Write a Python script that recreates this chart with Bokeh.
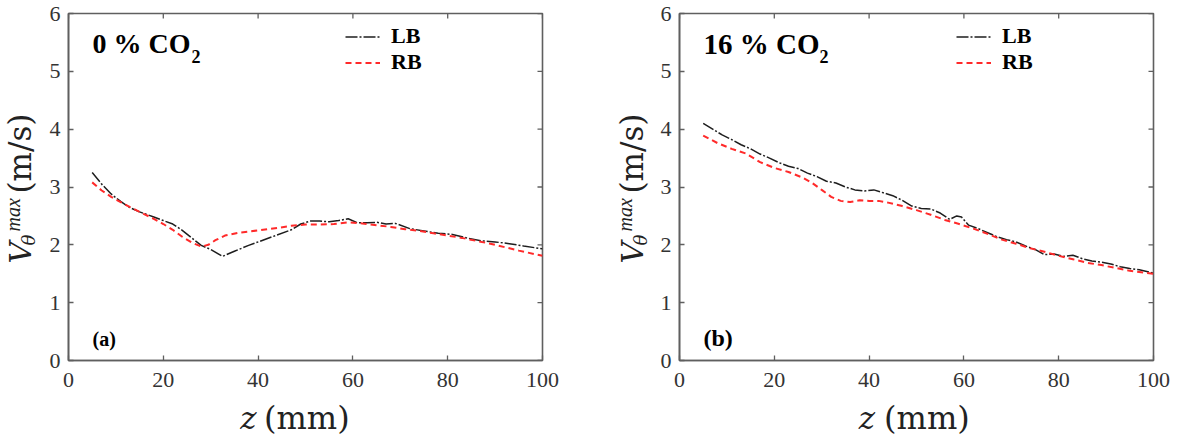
from math import pi
from bokeh.plotting import figure
from bokeh.layouts import row, column
from bokeh.models import Label, Range1d
from bokeh.embed import file_html
from bokeh.resources import INLINE

# ---------------- data ----------------
x_ticks = [0, 20, 40, 60, 80, 100]
y_ticks = [0, 1, 2, 3, 4, 5, 6]

series_names = ["LB", "RB"]

# panel (a): 0 % CO2
a_lb_z = [5, 7, 9, 11, 13, 15, 18, 20, 22, 24, 26, 28, 30, 32.5, 35, 38, 41, 44, 47, 49,
          51, 53, 55, 57, 59, 61, 63, 65, 67, 69, 72, 75, 78, 81, 84, 87, 90, 93, 96, 100]
a_lb_v = [3.25, 3.05, 2.88, 2.75, 2.64, 2.57, 2.48, 2.42, 2.36, 2.25, 2.12, 1.99, 1.92, 1.80,
          1.89, 1.99, 2.08, 2.17, 2.26, 2.36, 2.41, 2.41, 2.40, 2.42, 2.45, 2.38, 2.38, 2.39,
          2.36, 2.37, 2.28, 2.24, 2.20, 2.18, 2.12, 2.07, 2.05, 2.02, 1.98, 1.93]
a_rb_z = [5, 7, 9, 11, 13, 15, 18, 20, 22, 24, 26, 28, 29.5, 31, 33, 36, 40, 44, 47, 50,
          53, 56, 59, 62, 65, 68, 71, 74, 77, 80, 83, 86, 89, 92, 95, 100]
a_rb_v = [3.08, 2.94, 2.83, 2.74, 2.65, 2.57, 2.45, 2.36, 2.26, 2.14, 2.04, 1.97, 2.00, 2.08,
          2.16, 2.21, 2.25, 2.29, 2.33, 2.35, 2.35, 2.36, 2.39, 2.37, 2.34, 2.31, 2.27, 2.24,
          2.20, 2.16, 2.12, 2.07, 2.02, 1.96, 1.90, 1.81]

# panel (b): 16 % CO2
b_lb_z = [5, 7, 9, 11, 13, 15, 17, 19, 21, 23, 25, 27, 29, 31, 33, 35, 37, 39, 41, 43, 45,
          47, 49, 51, 53, 55, 57, 58.5, 59.5, 61, 63, 65, 67, 69, 71, 73, 75, 77, 79, 81, 83,
          85, 87, 89, 91, 93, 95, 97, 100]
b_lb_v = [4.10, 4.00, 3.90, 3.82, 3.73, 3.66, 3.57, 3.50, 3.42, 3.36, 3.32, 3.24, 3.18, 3.10,
          3.07, 3.00, 2.95, 2.93, 2.95, 2.90, 2.85, 2.77, 2.67, 2.63, 2.62, 2.55, 2.44, 2.50,
          2.48, 2.34, 2.28, 2.21, 2.14, 2.09, 2.05, 1.98, 1.92, 1.83, 1.84, 1.80, 1.82, 1.76,
          1.72, 1.70, 1.67, 1.62, 1.59, 1.57, 1.51]
b_rb_z = [5, 8, 11, 14, 17, 20, 23, 26, 28, 30, 32, 34, 36, 38, 40, 42, 44, 47, 50, 53, 56,
          59, 62, 65, 68, 71, 74, 77, 80, 83, 86, 89, 92, 95, 100]
b_rb_v = [3.89, 3.76, 3.66, 3.58, 3.43, 3.33, 3.26, 3.16, 3.07, 2.95, 2.83, 2.76, 2.74, 2.77,
          2.76, 2.76, 2.73, 2.67, 2.60, 2.52, 2.43, 2.36, 2.28, 2.19, 2.09, 2.02, 1.94, 1.88,
          1.81, 1.75, 1.69, 1.65, 1.60, 1.55, 1.50]

# ---------------- style ----------------
FRAME = "#5f5f5f"
TICKTXT = "#333333"
SERIF = "Liberation Serif"
LABELF = "DejaVu Serif"
LABCOL = "#222222"
LB_COLOR = "#1e1e1e"
RB_COLOR = "#ff2a2a"
TOTAL_H = 436
MAIN_H = 400


def add_label(p, text, x, y, size, font=SERIF, style="normal", angle=0, color="black",
              units="screen"):
    # shift so that (x, y) is the visual baseline start of the text
    px = int(size.replace("px", ""))
    fudge = round(0.35 * px)
    if angle == 0:
        y = y + fudge
    else:
        x = x - fudge
    p.add_layout(Label(x=x, y=y, x_units=units, y_units=units, text=text,
                       text_font=font, text_font_style=style,
                       text_font_size=size, text_color=color, angle=angle,
                       text_align="left", text_baseline="alphabetic"))


def text_fig(width, height):
    f = figure(width=width, height=height, x_range=Range1d(0, width),
               y_range=Range1d(0, height), min_border=0,
               x_axis_type=None, y_axis_type=None,
               output_backend="svg", toolbar_location=None, tools="")
    f.outline_line_color = None
    f.background_fill_color = "white"
    f.border_fill_color = "white"
    return f


def ylabel_fig(width, base):
    f = text_fig(width, TOTAL_H)
    # V_theta^max (m/s), rotated; y positions measured from the bottom of the page
    add_label(f, "V", base, 173, "30px", font=LABELF, style="italic", angle=pi / 2,
              color=LABCOL, units="data")
    add_label(f, "θ", base + 4, 191, "18px", font=LABELF, style="italic", angle=pi / 2,
              color=LABCOL, units="data")
    add_label(f, "max", base - 11, 205, "20px", font=SERIF, style="italic", angle=pi / 2,
              color=LABCOL, units="data")
    add_label(f, "(m/s)", base, 243, "31px", font=LABELF, angle=pi / 2,
              color=LABCOL, units="data")
    return f


def xlabel_fig(width, zx):
    f = text_fig(width, TOTAL_H - MAIN_H)
    add_label(f, "z", zx, 8, "31px", font=LABELF, style="italic", color=LABCOL, units="data")
    add_label(f, "(mm)", zx + 28, 8, "32px", font=LABELF, color=LABCOL, units="data")
    return f


def make_panel(width, border_left, border_right, lb_z, lb_v, rb_z, rb_v,
               title_main, title_size, title_sub_x, tag, tag_size):
    p = figure(width=width, height=MAIN_H,
               x_range=Range1d(x_ticks[0], x_ticks[-1]),
               y_range=Range1d(y_ticks[0], y_ticks[-1]),
               min_border_left=border_left, min_border_right=border_right,
               min_border_top=13, min_border_bottom=MAIN_H - 13 - 347,
               output_backend="svg", toolbar_location=None, tools="")
    p.outline_line_color = FRAME
    p.outline_line_width = 1.6
    p.background_fill_color = "white"
    p.border_fill_color = "white"
    p.xgrid.grid_line_color = None
    p.ygrid.grid_line_color = None

    for ax in (p.xaxis[0], p.yaxis[0]):
        ax.axis_line_color = FRAME
        ax.axis_line_width = 1.6
        ax.major_tick_line_color = FRAME
        ax.major_tick_line_width = 1.3
        ax.major_tick_in = 5
        ax.major_tick_out = 0
        ax.minor_tick_line_color = None
        ax.major_label_text_font = SERIF
        ax.major_label_text_font_size = "22px"
        ax.major_label_text_color = TICKTXT
    p.xaxis[0].ticker = x_ticks
    p.yaxis[0].ticker = y_ticks
    p.xaxis[0].major_label_standoff = 12
    p.yaxis[0].major_label_standoff = 8

    # inward ticks on the top and right edges (dash markers clipped by the frame)
    p.scatter(x=x_ticks, y=[y_ticks[-1]] * len(x_ticks), marker="dash", size=10,
              angle=pi / 2, line_color=FRAME, line_width=1.3)
    p.scatter(x=[x_ticks[-1]] * len(y_ticks), y=y_ticks, marker="dash", size=10,
              line_color=FRAME, line_width=1.3)

    p.line(lb_z, lb_v, line_color=LB_COLOR, line_width=1.5, line_dash="12 2 2 2",
           legend_label=series_names[0])
    p.line(rb_z, rb_v, line_color=RB_COLOR, line_width=2.0, line_dash="6 4",
           legend_label=series_names[1])

    lg = p.legend[0]
    lg.location = (277, 285)
    lg.background_fill_alpha = 0
    lg.border_line_color = None
    lg.padding = 0
    lg.spacing = 0
    lg.margin = 0
    lg.glyph_width = 35
    lg.glyph_height = 25
    lg.label_height = 25
    lg.label_standoff = 11
    lg.label_text_font = SERIF
    lg.label_text_font_style = "bold"
    lg.label_text_font_size = "22px"
    lg.label_text_color = "black"

    # panel title with subscript (frame-relative screen units, baseline positions)
    add_label(p, title_main, 24, 307, title_size, style="bold")
    add_label(p, "2", title_sub_x, 298, "18px", style="bold")
    # panel tag
    add_label(p, tag, 24, 15, tag_size, style="bold")
    return p


# left half: page x 0..600, frame 68..542
ya = ylabel_fig(40, 30)
pa = make_panel(560, 28, 58, a_lb_z, a_lb_v, a_rb_z, a_rb_v,
                "0 % CO", "28px", 123, "(a)", "20px")
xa = xlabel_fig(560, 203)

# right half: page x 600..1181, frame 679..1153
yb = ylabel_fig(55, 42)
pb = make_panel(526, 24, 28, b_lb_z, b_lb_v, b_rb_z, b_rb_v,
                "16 % CO", "29px", 140, "(b)", "24px")
xb = xlabel_fig(526, 199)

layout = row(ya, column(pa, xa), yb, column(pb, xb))
open("out.html", "w").write(file_html(layout, INLINE))
